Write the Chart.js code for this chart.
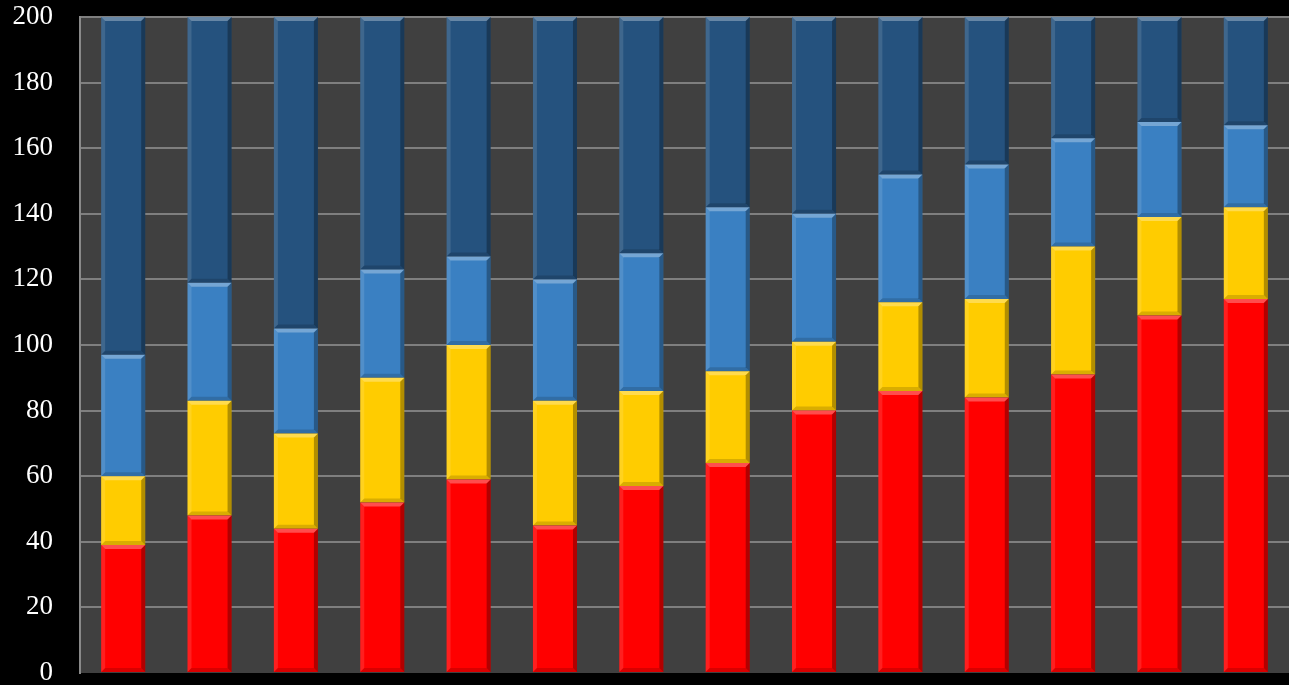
<!DOCTYPE html>
<html>
<head>
<meta charset="utf-8">
<script src="https://cdn.jsdelivr.net/npm/chart.js@4"></script>
<style>
  html, body { margin: 0; padding: 0; background: #000; }
  #wrap { width: 1289px; height: 685px; }
</style>
</head>
<body>
<div id="wrap"><canvas id="grafico"></canvas></div>
<script>
// dados (segmentos empilhados)
const categorias = ["1", "2", "3", "4", "5", "6", "7", "8", "9", "10", "11", "12", "13", "14"];
const vermelho = [39, 48, 44, 52, 59, 45, 57, 64, 80, 86, 84, 91, 109, 114];
const amarelo = [21, 35, 29, 38, 41, 38, 29, 28, 21, 27, 30, 39, 30, 28];
const azulClaro = [37, 36, 32, 33, 27, 37, 42, 50, 39, 39, 41, 33, 29, 25];
const azulEscuro = [103, 81, 95, 77, 73, 80, 72, 58, 60, 48, 45, 37, 32, 33];
const ticksY = [0, 20, 40, 60, 80, 100, 120, 140, 160, 180, 200];

// fundo cinza da área do gráfico
const fundo = {
  id: 'fundo',
  beforeDraw(chart) {
    const { ctx, chartArea: a } = chart;
    ctx.save();
    ctx.fillStyle = '#404040';
    ctx.fillRect(a.left, a.top, a.right - a.left, a.bottom - a.top);
    ctx.restore();
  }
};

// efeito chanfrado nas barras
const chanfro = {
  id: 'chanfro',
  afterDatasetsDraw(chart) {
    const ctx = chart.ctx;
    chart.data.datasets.forEach((ds, i) => {
      chart.getDatasetMeta(i).data.forEach(bar => {
        const x0 = bar.x - bar.width / 2, x1 = bar.x + bar.width / 2;
        const y0 = Math.min(bar.y, bar.base), y1 = Math.max(bar.y, bar.base);
        const b = 4;
        ctx.save();
        ctx.fillStyle = 'rgba(255,255,255,0.3)';
        ctx.beginPath();
        ctx.moveTo(x0, y0); ctx.lineTo(x1, y0); ctx.lineTo(x1 - b, y0 + b); ctx.lineTo(x0 + b, y0 + b); ctx.closePath();
        ctx.fill();
        ctx.fillStyle = 'rgba(255,255,255,0.12)';
        ctx.beginPath();
        ctx.moveTo(x0, y0); ctx.lineTo(x0 + b, y0 + b); ctx.lineTo(x0 + b, y1 - b); ctx.lineTo(x0, y1); ctx.closePath();
        ctx.fill();
        ctx.fillStyle = 'rgba(0,0,0,0.3)';
        ctx.beginPath();
        ctx.moveTo(x1, y0); ctx.lineTo(x1, y1); ctx.lineTo(x1 - b, y1 - b); ctx.lineTo(x1 - b, y0 + b); ctx.closePath();
        ctx.fill();
        ctx.fillStyle = 'rgba(0,0,0,0.15)';
        ctx.beginPath();
        ctx.moveTo(x0, y1); ctx.lineTo(x1, y1); ctx.lineTo(x1 - b, y1 - b); ctx.lineTo(x0 + b, y1 - b); ctx.closePath();
        ctx.fill();
        ctx.restore();
      });
    });
  }
};

const ctx = document.getElementById('grafico').getContext('2d');
const myChart = new Chart(ctx, {
  type: 'bar',
  data: {
    labels: categorias,
    datasets: [
      { label: 'A', data: vermelho, backgroundColor: '#ff0000' },
      { label: 'B', data: amarelo, backgroundColor: '#ffcc00' },
      { label: 'C', data: azulClaro, backgroundColor: '#3a80c2' },
      { label: 'D', data: azulEscuro, backgroundColor: '#25527e' }
    ]
  },
  plugins: [fundo, chanfro],
  options: {
    responsive: true,
    maintainAspectRatio: false,
    animation: false,
    layout: { padding: { top: 17, right: 0, bottom: 12, left: 0 } },
    datasets: {
      bar: { barPercentage: 1, categoryPercentage: 0.51, borderWidth: 0 }
    },
    plugins: {
      legend: { display: false },
      tooltip: { enabled: false }
    },
    scales: {
      x: {
        stacked: true,
        display: false
      },
      y: {
        stacked: true,
        min: 0,
        max: 200,
        afterFit(scale) {
          scale.width = 80;
          scale.paddingTop = 0;
          scale.paddingBottom = 0;
        },
        afterBuildTicks(scale) { scale.ticks = ticksY.map(v => ({ value: v })); },
        border: { display: true, color: '#8a8a8a', width: 2 },
        grid: {
          color: c => c.tick && c.tick.value === 0 ? 'rgba(0,0,0,0)' : '#7f7f7f',
          lineWidth: 2,
          drawTicks: false
        },
        ticks: {
          color: '#ffffff',
          padding: 27,
          font: { family: 'Liberation Serif', size: 27 }
        }
      }
    }
  }
});
</script>
</body>
</html>
